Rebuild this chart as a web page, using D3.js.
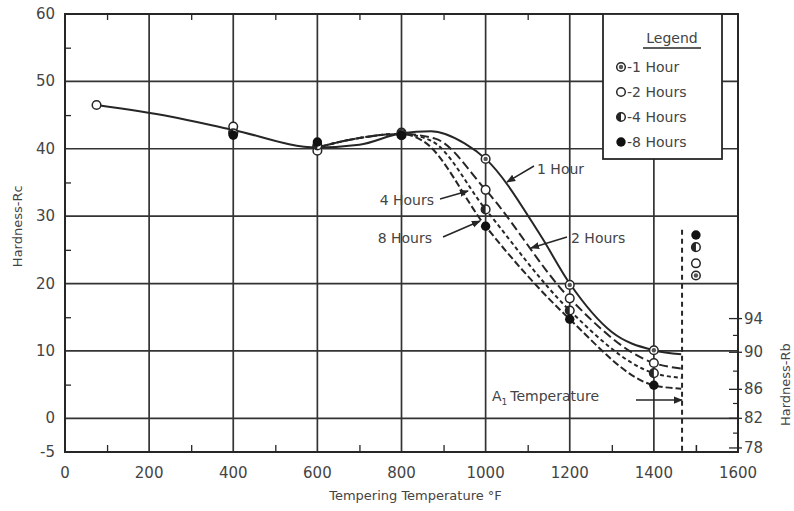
<!DOCTYPE html>
<html>
<head>
<meta charset="utf-8">
<script src="https://cdn.jsdelivr.net/npm/d3@7"></script>
<style>
  body { margin: 0; background: #fff; }
  svg text { font-family: "DejaVu Sans", "Liberation Sans", sans-serif; fill: #444; }
</style>
</head>
<body>
<svg id="chart" width="794" height="511"></svg>
<script>
// Tempering temperature (°F) at which hardness was measured
const temps = [400, 600, 800, 1000, 1200, 1400, 1500];
// Measured hardness, Rockwell C, per tempering time
const hrc1h = [42.5, 40.3, 42.4, 38.5, 19.8, 10.1, 21.2];
const hrc2h = [43.3, 39.7, 42.0, 33.9, 17.8, 8.2, 23.0];
const hrc4h = [42.3, 40.5, 42.2, 31.0, 16.0, 6.7, 25.4];
const hrc8h = [42.0, 41.0, 42.0, 28.5, 14.7, 4.9, 27.2];
// As-quenched hardness
const asQuenched = [75, 46.5];

// Faired curves through the data, [°F, HRC]
const curve1h = [[75,46.5],[250,44.8],[400,42.8],[600,40.2],[700,40.6],[800,42.3],[870,42.6],[950,40.8],[1000,38.5],[1130,27.2],[1200,20],[1300,12.8],[1400,10.1],[1465,9.5]];
const curve2h = [[600,40.2],[700,41.6],[800,42.2],[880,41.5],[1000,33.9],[1200,17.8],[1400,8.2],[1465,7.4]];
const curve4h = [[600,40.2],[700,41.6],[800,42.2],[870,41.2],[1000,31.0],[1200,16.0],[1400,6.7],[1465,6.0]];
const curve8h = [[600,40.2],[700,41.6],[800,42.2],[850,41.2],[1000,28.5],[1200,14.7],[1400,4.9],[1465,4.4]];

const seriesNames = ["1 Hour", "2 Hours", "4 Hours", "8 Hours"];
const legendLabels = ["-1 Hour", "-2 Hours", "-4 Hours", "-8 Hours"];

// Axis ticks
const xTicks = [0, 200, 400, 600, 800, 1000, 1200, 1400, 1600];
const xTickLabels = ["0", "200", "400", "600", "800", "1000", "1200", "1400", "1600"];
const yTicks = [60, 50, 40, 30, 20, 10, 0, -5];
// Rockwell B scale on the right, with the equivalent Rockwell C values
const rbTicks = [94, 90, 86, 82, 78];
const rbAsRc = [14.8, 9.8, 4.3, 0, -4.4];
const rbMinorAsRc = [12.3, 7.0, 2.2, -2.2];

// A1 transformation temperature, °F
const a1Temp = 1467;

const svg = d3.select("#chart");
const x = d3.scaleLinear().domain([0, 1600]).range([65, 738]);
const y = d3.scaleLinear().domain([-5, 60]).range([452, 14]);
const ink = "#262626";

// Grid
const grid = svg.append("g").attr("stroke", "#333").attr("stroke-width", 1.7);
grid.selectAll("line.v").data(xTicks.slice(1, -1)).join("line")
  .attr("x1", d => x(d)).attr("x2", d => x(d)).attr("y1", y(60)).attr("y2", y(-5));
grid.selectAll("line.h").data(yTicks.slice(1, -1)).join("line")
  .attr("y1", d => y(d)).attr("y2", d => y(d)).attr("x1", x(0)).attr("x2", x(1600));

// Frame
svg.append("rect").attr("x", x(0)).attr("y", y(60))
  .attr("width", x(1600) - x(0)).attr("height", y(-5) - y(60))
  .attr("fill", "none").attr("stroke", ink).attr("stroke-width", 2);

// Axes with inward minor ticks
const minorX = d3.range(100, 1600, 200).concat([1500]);
svg.append("g").attr("transform", `translate(0,${y(-5)})`)
  .call(d3.axisTop(x).tickValues(minorX).tickSize(7).tickFormat(""))
  .call(g => g.select(".domain").remove())
  .call(g => g.selectAll("line").attr("stroke", ink).attr("stroke-width", 1.3));
svg.append("g").attr("transform", `translate(0,${y(60)})`)
  .call(d3.axisBottom(x).tickValues(minorX).tickSize(6).tickFormat(""))
  .call(g => g.select(".domain").remove())
  .call(g => g.selectAll("line").attr("stroke", ink).attr("stroke-width", 1.3));
svg.append("g").attr("transform", `translate(${x(0)},0)`)
  .call(d3.axisRight(y).tickValues(d3.range(-5, 60, 10).filter(v => v > -5)).tickSize(6).tickFormat(""))
  .call(g => g.select(".domain").remove())
  .call(g => g.selectAll("line").attr("stroke", ink).attr("stroke-width", 1.3));

// Tick labels
svg.append("g").selectAll("text").data(xTicks).join("text")
  .attr("x", d => x(d)).attr("y", 478).attr("text-anchor", "middle")
  .attr("font-size", 15).text((d, i) => xTickLabels[i]);
svg.append("g").selectAll("text").data(yTicks).join("text")
  .attr("x", 55).attr("y", d => y(d) + 5).attr("text-anchor", "end")
  .attr("font-size", 15).text(d => d);

// Right (Rockwell B) axis
const rb = svg.append("g");
rb.selectAll("line.maj").data(rbAsRc).join("line")
  .attr("x1", x(1600) - 9).attr("x2", x(1600) + 4)
  .attr("y1", d => y(d)).attr("y2", d => y(d))
  .attr("stroke", ink).attr("stroke-width", 1.3);
rb.selectAll("line.min").data(rbMinorAsRc).join("line")
  .attr("x1", x(1600) - 5).attr("x2", x(1600))
  .attr("y1", d => y(d)).attr("y2", d => y(d))
  .attr("stroke", ink).attr("stroke-width", 1.2);
rb.selectAll("text").data(rbTicks).join("text")
  .attr("x", x(1600) + 6).attr("y", (d, i) => y(rbAsRc[i]) + 5)
  .attr("font-size", 15).text(d => d);

// Axis titles
svg.append("text").attr("transform", `translate(22,${y(28.5)}) rotate(-90)`)
  .attr("text-anchor", "middle").attr("font-size", 13).text("Hardness-Rc");
svg.append("text").attr("transform", `translate(790,${y(5)}) rotate(-90)`)
  .attr("text-anchor", "middle").attr("font-size", 13).text("Hardness-Rb");
svg.append("text").attr("x", x(800) + 14).attr("y", 500)
  .attr("text-anchor", "middle").attr("font-size", 13).text("Tempering Temperature °F");

// Curves
const line = d3.line().x(d => x(d[0])).y(d => y(d[1])).curve(d3.curveMonotoneX);
const curves = [
  { pts: curve1h, dash: null },
  { pts: curve2h, dash: "9,4" },
  { pts: curve4h, dash: "4,3" },
  { pts: curve8h, dash: "7,3" }
];
svg.append("g").selectAll("path").data(curves).join("path")
  .attr("d", d => line(d.pts)).attr("fill", "none")
  .attr("stroke", ink).attr("stroke-width", 2)
  .attr("stroke-dasharray", d => d.dash);

// A1 temperature line
svg.append("line").attr("x1", x(a1Temp)).attr("x2", x(a1Temp))
  .attr("y1", y(28)).attr("y2", y(-5))
  .attr("stroke", ink).attr("stroke-width", 2).attr("stroke-dasharray", "5,4");

// Markers: 1 h dotted circle, 2 h open, 4 h half filled, 8 h solid
function marker(g, kind, cx, cy) {
  const r = 4.3;
  if (kind === 0) {
    g.append("circle").attr("cx", cx).attr("cy", cy).attr("r", r)
      .attr("fill", "#fff").attr("stroke", ink).attr("stroke-width", 1.5);
    g.append("circle").attr("cx", cx).attr("cy", cy).attr("r", 2.2).attr("fill", "#555");
  } else if (kind === 1) {
    g.append("circle").attr("cx", cx).attr("cy", cy).attr("r", r)
      .attr("fill", "#fff").attr("stroke", ink).attr("stroke-width", 1.5);
  } else if (kind === 2) {
    g.append("circle").attr("cx", cx).attr("cy", cy).attr("r", r)
      .attr("fill", "#fff").attr("stroke", ink).attr("stroke-width", 1.5);
    g.append("path").attr("d", `M${cx},${cy - r} A${r},${r} 0 0 0 ${cx},${cy + r} Z`).attr("fill", ink);
  } else {
    g.append("circle").attr("cx", cx).attr("cy", cy).attr("r", r + 0.4).attr("fill", "#111");
  }
}
const markG = svg.append("g");
marker(markG, 1, x(asQuenched[0]), y(asQuenched[1]));
[hrc1h, hrc2h, hrc4h, hrc8h].forEach((vals, k) => {
  vals.forEach((v, i) => marker(markG, k, x(temps[i]), y(v)));
});

// Curve labels with leader arrows
svg.append("defs").append("marker").attr("id", "arrow")
  .attr("viewBox", "0 0 10 10").attr("refX", 9).attr("refY", 5)
  .attr("markerWidth", 6).attr("markerHeight", 6).attr("orient", "auto")
  .append("path").attr("d", "M0,1 L10,5 L0,9 Z").attr("fill", ink);
const notes = [
  { text: seriesNames[0], tx: 537, ty: 174, anchor: "start", from: [534, 166], to: [507, 182] },
  { text: seriesNames[2], tx: 434, ty: 205, anchor: "end", from: [440, 199], to: [468, 191] },
  { text: seriesNames[3], tx: 432, ty: 243, anchor: "end", from: [443, 237], to: [480, 221] },
  { text: seriesNames[1], tx: 571, ty: 243, anchor: "start", from: [567, 237], to: [531, 248] }
];
const ng = svg.append("g");
notes.forEach(n => {
  ng.append("text").attr("x", n.tx).attr("y", n.ty).attr("text-anchor", n.anchor)
    .attr("font-size", 14).text(n.text);
  ng.append("line").attr("x1", n.from[0]).attr("y1", n.from[1])
    .attr("x2", n.to[0]).attr("y2", n.to[1])
    .attr("stroke", ink).attr("stroke-width", 1.5).attr("marker-end", "url(#arrow)");
});
const a1 = ng.append("text").attr("x", 492).attr("y", y(2.6)).attr("font-size", 14);
a1.append("tspan").text("A");
a1.append("tspan").attr("font-size", 9).attr("dy", 4).text("1");
a1.append("tspan").attr("dy", -4).attr("dx", 3).text("Temperature");
ng.append("line").attr("x1", 636).attr("x2", x(a1Temp)).attr("y1", y(2.7)).attr("y2", y(2.7))
  .attr("stroke", ink).attr("stroke-width", 1.5).attr("marker-end", "url(#arrow)");

// Legend
const lg = svg.append("g");
lg.append("rect").attr("x", 603).attr("y", y(60)).attr("width", 119).attr("height", 145)
  .attr("fill", "#fff").attr("stroke", ink).attr("stroke-width", 1.8);
lg.append("text").attr("x", 672).attr("y", 43).attr("text-anchor", "middle")
  .attr("font-size", 14).text("Legend");
lg.append("line").attr("x1", 643).attr("x2", 701).attr("y1", 48).attr("y2", 48)
  .attr("stroke", ink).attr("stroke-width", 1.3);
legendLabels.forEach((t, k) => {
  const cy = 67 + k * 25;
  marker(lg, k, 621, cy);
  lg.append("text").attr("x", 627).attr("y", cy + 5).attr("font-size", 14).text(t);
});
</script>
</body>
</html>
